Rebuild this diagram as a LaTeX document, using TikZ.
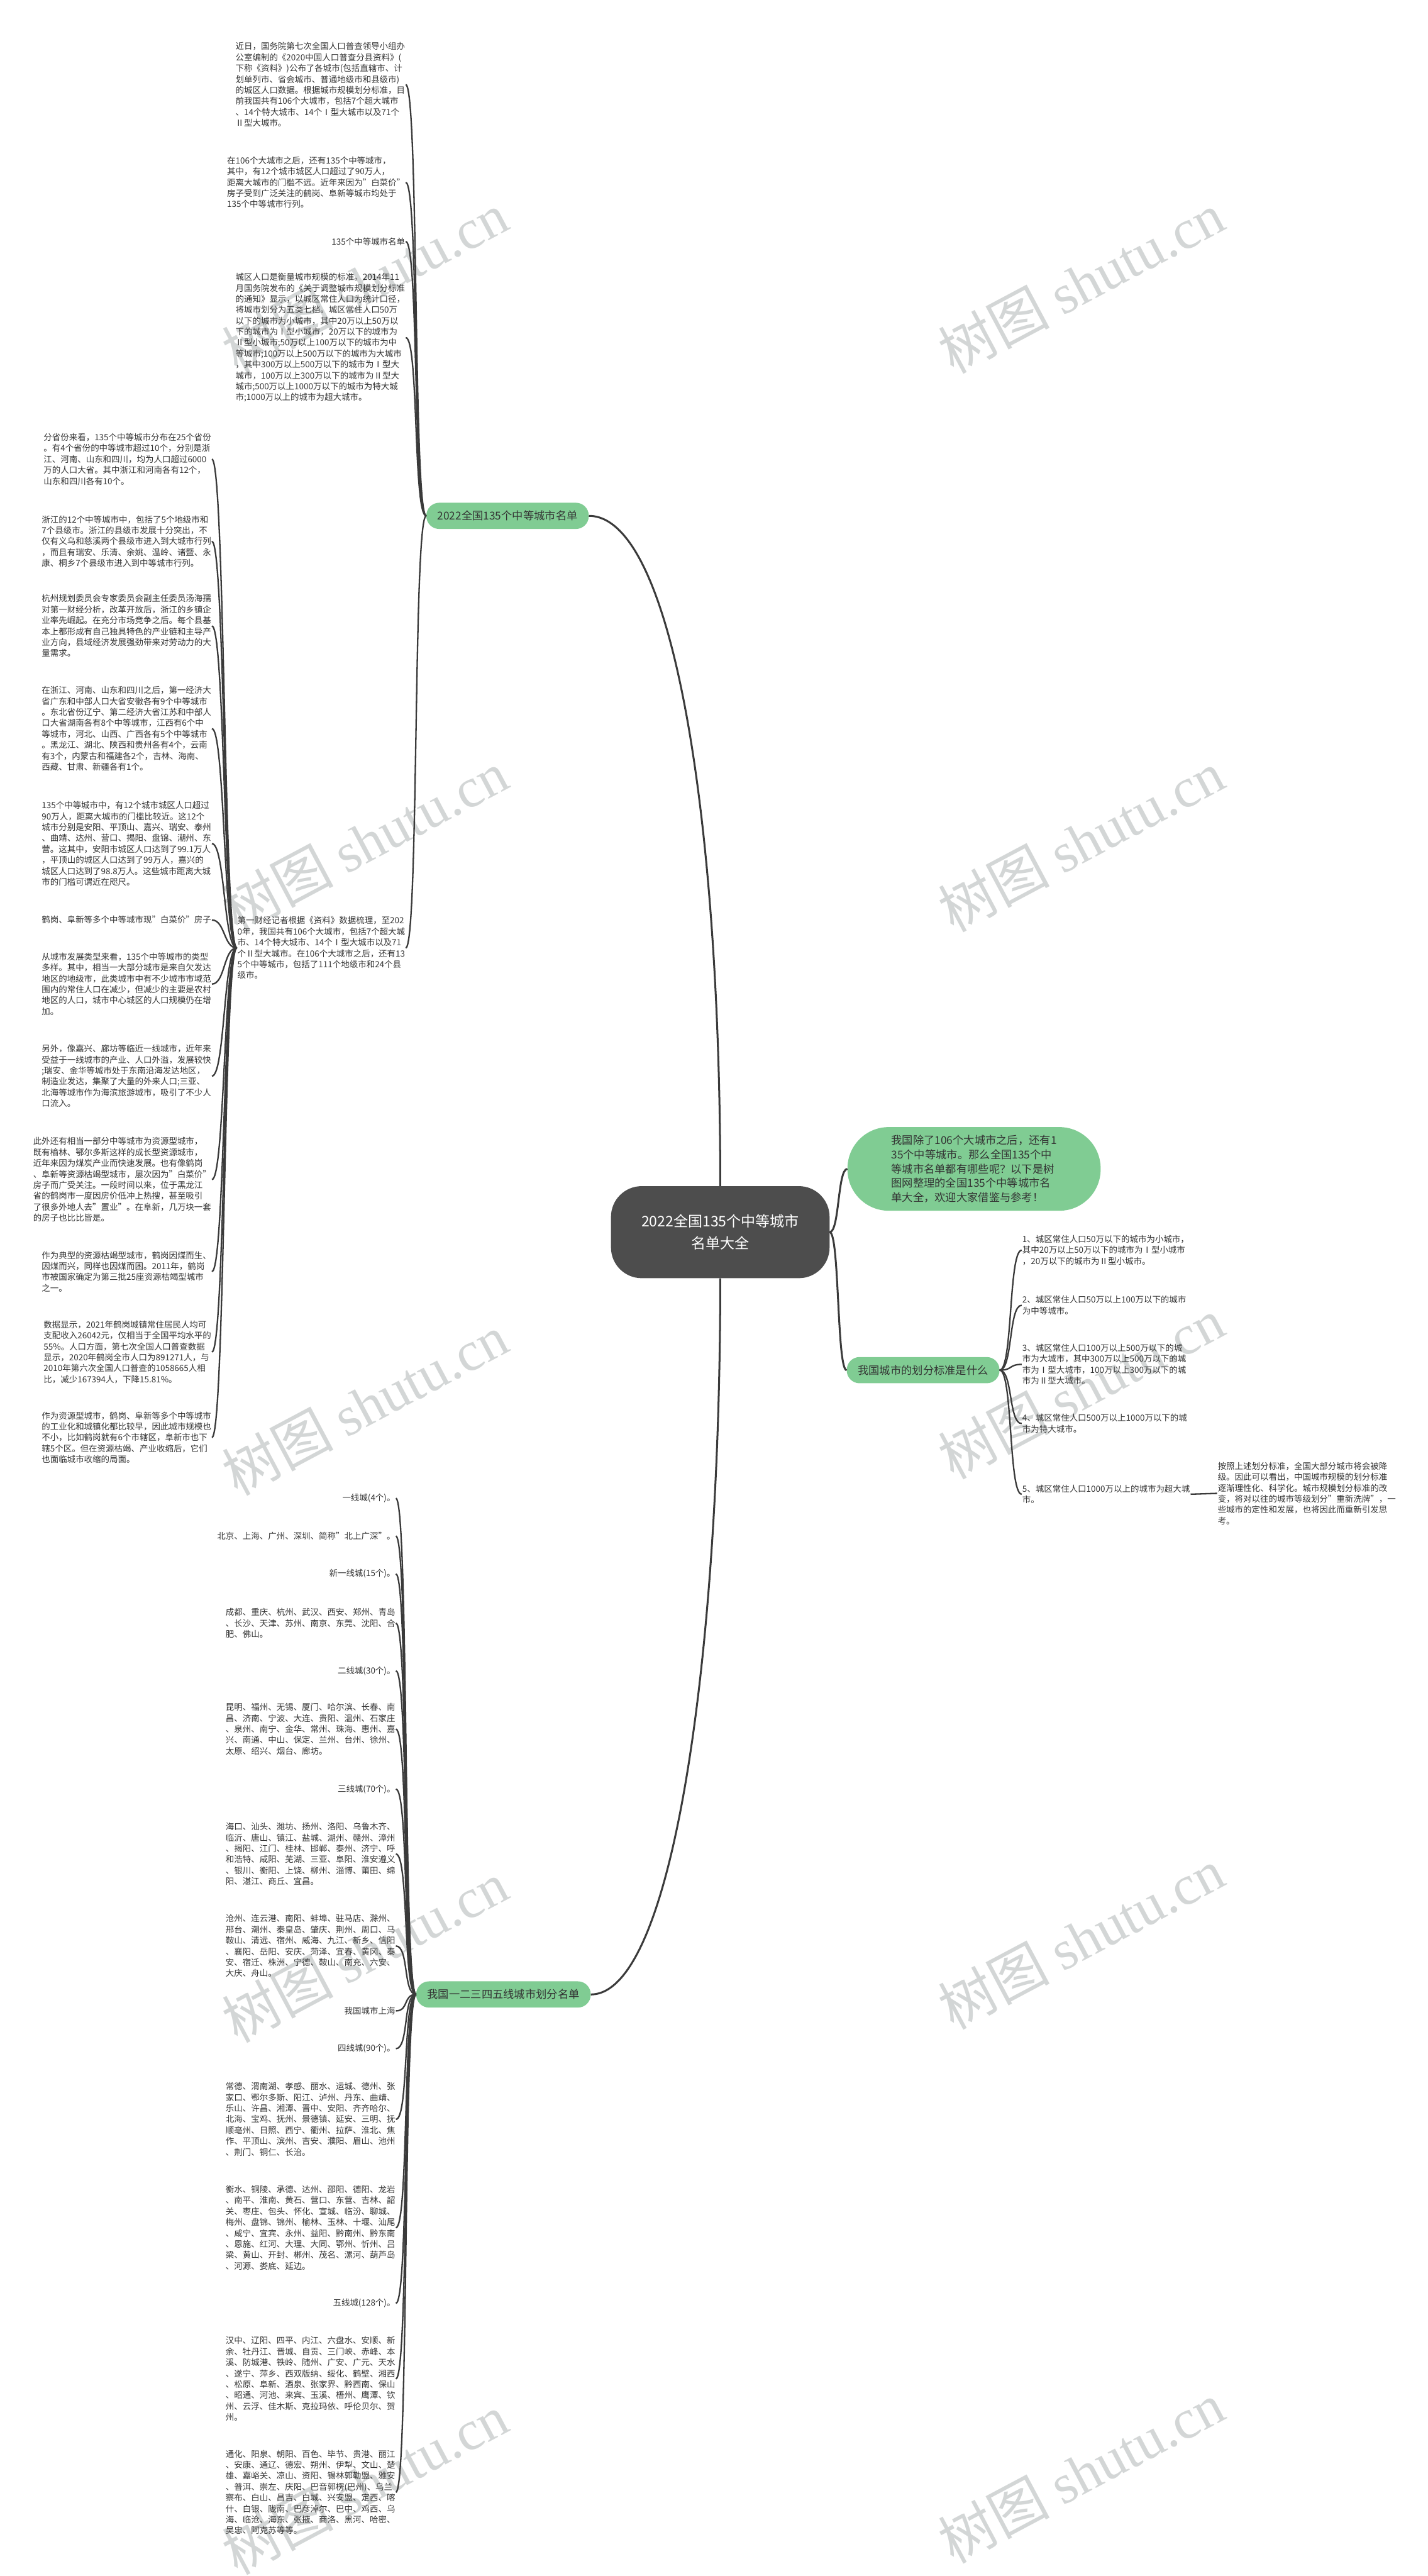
\documentclass[tikz,border=0pt]{standalone}
\usepackage{fontspec}
\setmainfont{Noto Sans CJK SC}
\newfontfamily\wmserif{Liberation Serif}
\usepackage{tikz}
\definecolor{ink}{HTML}{333333}
\definecolor{rootgray}{HTML}{4D4D4D}
\definecolor{leafgreen}{HTML}{80CC93}
\definecolor{linegray}{HTML}{3A3A3A}
\definecolor{wmgray}{HTML}{D3D6D6}
\tikzset{
  rootbox/.style={rectangle, fill=rootgray, text=white, rounded corners=55pt,
    minimum width=392pt, minimum height=165pt, align=center,
    font=\fontsize{26}{40}\selectfont},
  branchbox/.style={rectangle, fill=leafgreen, text=ink, rounded corners=23pt,
    minimum height=47pt, inner xsep=20pt, font=\fontsize{19.5}{25.7}\selectfont},
  notebox/.style={rectangle, fill=leafgreen, text=ink, rounded corners=74pt,
    minimum width=454pt, minimum height=150pt, align=left,
    font=\fontsize{19.5}{25.7}\selectfont},
  lefttext/.style={anchor=east, align=left, inner sep=1pt, text=ink,
    font=\fontsize{15.2}{19.6}\selectfont},
  righttext/.style={lefttext, anchor=west},
  link/.style={draw=linegray, line width=2.6pt},
  trunk/.style={draw=linegray, line width=3.4pt},
  watermark/.style={text=wmgray, rotate=28, font=\fontsize{100}{100}\selectfont},
}

\begin{document}
\begin{tikzpicture}[x=2.946pt, y=-2.946pt]
  \fill[white] (0,0) rectangle (869,1568);
  \useasboundingbox (0,0) rectangle (869,1568);
  \node[watermark] (wm1) at (222,172) {树图 {\wmserif shutu.cn}};
  \node[watermark] (wm2) at (658,172) {树图 {\wmserif shutu.cn}};
  \node[watermark] (wm3) at (222,512) {树图 {\wmserif shutu.cn}};
  \node[watermark] (wm4) at (658,512) {树图 {\wmserif shutu.cn}};
  \node[watermark] (wm5) at (222,855) {树图 {\wmserif shutu.cn}};
  \node[watermark] (wm6) at (658,845) {树图 {\wmserif shutu.cn}};
  \node[watermark] (wm7) at (222,1188) {树图 {\wmserif shutu.cn}};
  \node[watermark] (wm8) at (658,1180) {树图 {\wmserif shutu.cn}};
  \node[watermark] (wm9) at (222,1512) {树图 {\wmserif shutu.cn}};
  \node[watermark] (wm10) at (658,1505) {树图 {\wmserif shutu.cn}};

  \node[rootbox] (root) at (438.5,750) {2022全国135个中等城市\\名单大全};
  \node[branchbox] (list) at (309,314) {2022全国135个中等城市名单};
  \node[notebox] (intro) at (593,711.5) {我国除了106个大城市之后，还有1\\35个中等城市。那么全国135个中\\等城市名单都有哪些呢？以下是树\\图网整理的全国135个中等城市名\\单大全，欢迎大家借鉴与参考！};
  \node[branchbox] (std) at (562,834) {我国城市的划分标准是什么};
  \node[branchbox] (tiers) at (306.5,1214) {我国一二三四五线城市划分名单};

  \node[lefttext] (news) at (247,51.5) {近日，国务院第七次全国人口普查领导小组办\\公室编制的《2020中国人口普查分县资料》(\\下称《资料》)公布了各城市(包括直辖市、计\\划单列市、省会城市、普通地级市和县级市)\\的城区人口数据。根据城市规模划分标准，目\\前我国共有106个大城市，包括7个超大城市\\、14个特大城市、14个Ⅰ型大城市以及71个\\Ⅱ型大城市。};
  \node[lefttext] (after) at (247,111) {在106个大城市之后，还有135个中等城市，\\其中，有12个城市城区人口超过了90万人，\\距离大城市的门槛不远。近年来因为"白菜价"\\房子受到广泛关注的鹤岗、阜新等城市均处于\\135个中等城市行列。};
  \node[lefttext] (title) at (247,147) {135个中等城市名单};
  \node[lefttext] (scale) at (247,205.5) {城区人口是衡量城市规模的标准。2014年11\\月国务院发布的《关于调整城市规模划分标准\\的通知》显示，以城区常住人口为统计口径，\\将城市划分为五类七档。城区常住人口50万\\以下的城市为小城市，其中20万以上50万以\\下的城市为Ⅰ型小城市，20万以下的城市为\\Ⅱ型小城市;50万以上100万以下的城市为中\\等城市;100万以上500万以下的城市为大城市\\，其中300万以上500万以下的城市为Ⅰ型大\\城市，100万以上300万以下的城市为Ⅱ型大\\城市;500万以上1000万以下的城市为特大城\\市;1000万以上的城市为超大城市。};
  \node[lefttext] (survey) at (247,577) {第一财经记者根据《资料》数据梳理，至202\\0年，我国共有106个大城市，包括7个超大城\\市、14个特大城市、14个Ⅰ型大城市以及71\\个Ⅱ型大城市。在106个大城市之后，还有13\\5个中等城市，包括了111个地级市和24个县\\级市。};

  \node[lefttext] (prov) at (129,279.5) {分省份来看，135个中等城市分布在25个省份\\。有4个省份的中等城市超过10个，分别是浙\\江、河南、山东和四川，均为人口超过6000\\万的人口大省。其中浙江和河南各有12个，\\山东和四川各有10个。};
  \node[lefttext] (zj) at (129,329.5) {浙江的12个中等城市中，包括了5个地级市和\\7个县级市。浙江的县级市发展十分突出，不\\仅有义乌和慈溪两个县级市进入到大城市行列\\，而且有瑞安、乐清、余姚、温岭、诸暨、永\\康、桐乡7个县级市进入到中等城市行列。};
  \node[lefttext] (hz) at (129,381) {杭州规划委员会专家委员会副主任委员汤海孺\\对第一财经分析，改革开放后，浙江的乡镇企\\业率先崛起。在充分市场竞争之后。每个县基\\本上都形成有自己独具特色的产业链和主导产\\业方向，县域经济发展强劲带来对劳动力的大\\量需求。};
  \node[lefttext] (rank) at (129,443.5) {在浙江、河南、山东和四川之后，第一经济大\\省广东和中部人口大省安徽各有9个中等城市\\。东北省份辽宁、第二经济大省江苏和中部人\\口大省湖南各有8个中等城市，江西有6个中\\等城市，河北、山西、广西各有5个中等城市\\。黑龙江、湖北、陕西和贵州各有4个，云南\\有3个，内蒙古和福建各2个，吉林、海南、\\西藏、甘肃、新疆各有1个。};
  \node[lefttext] (near) at (129,513.5) {135个中等城市中，有12个城市城区人口超过\\90万人，距离大城市的门槛比较近。这12个\\城市分别是安阳、平顶山、嘉兴、瑞安、泰州\\、曲靖、达州、营口、揭阳、盘锦、潮州、东\\营。这其中，安阳市城区人口达到了99.1万人\\，平顶山的城区人口达到了99万人，嘉兴的\\城区人口达到了98.8万人。这些城市距离大城\\市的门槛可谓近在咫尺。};
  \node[lefttext] (cheap) at (129,560) {鹤岗、阜新等多个中等城市现"白菜价"房子};
  \node[lefttext] (kind) at (129,599) {从城市发展类型来看，135个中等城市的类型\\多样。其中，相当一大部分城市是来自欠发达\\地区的地级市，此类城市中有不少城市市域范\\围内的常住人口在减少，但减少的主要是农村\\地区的人口，城市中心城区的人口规模仍在增\\加。};
  \node[lefttext] (coast) at (129,655) {另外，像嘉兴、廊坊等临近一线城市，近年来\\受益于一线城市的产业、人口外溢，发展较快\\;瑞安、金华等城市处于东南沿海发达地区，\\制造业发达，集聚了大量的外来人口;三亚、\\北海等城市作为海滨旅游城市，吸引了不少人\\口流入。};
  \node[lefttext] (res) at (129,718) {此外还有相当一部分中等城市为资源型城市，\\既有榆林、鄂尔多斯这样的成长型资源城市，\\近年来因为煤炭产业而快速发展。也有像鹤岗\\、阜新等资源枯竭型城市，屡次因为"白菜价"\\房子而广受关注。一段时间以来，位于黑龙江\\省的鹤岗市一度因房价低冲上热搜，甚至吸引\\了很多外地人去"置业"。在阜新，几万块一套\\的房子也比比皆是。};
  \node[lefttext] (coal) at (129,774) {作为典型的资源枯竭型城市，鹤岗因煤而生、\\因煤而兴，同样也因煤而困。2011年，鹤岗\\市被国家确定为第三批25座资源枯竭型城市\\之一。};
  \node[lefttext] (data) at (129,823) {数据显示，2021年鹤岗城镇常住居民人均可\\支配收入26042元，仅相当于全国平均水平的\\55\%。人口方面，第七次全国人口普查数据\\显示，2020年鹤岗全市人口为891271人，与\\2010年第六次全国人口普查的1058665人相\\比，减少167394人，下降15.81\%。};
  \node[lefttext] (shrink) at (129,875) {作为资源型城市，鹤岗、阜新等多个中等城市\\的工业化和城镇化都比较早，因此城市规模也\\不小，比如鹤岗就有6个市辖区，阜新市也下\\辖5个区。但在资源枯竭、产业收缩后，它们\\也面临城市收缩的局面。};

  \node[righttext] (small) at (622,761) {1、城区常住人口50万以下的城市为小城市，\\其中20万以上50万以下的城市为Ⅰ型小城市\\，20万以下的城市为Ⅱ型小城市。};
  \node[righttext] (mid) at (622,794.5) {2、城区常住人口50万以上100万以下的城市\\为中等城市。};
  \node[righttext] (big) at (622,830.5) {3、城区常住人口100万以上500万以下的城\\市为大城市，其中300万以上500万以下的城\\市为Ⅰ型大城市，100万以上300万以下的城\\市为Ⅱ型大城市。};
  \node[righttext] (huge) at (622,866.5) {4、城区常住人口500万以上1000万以下的城\\市为特大城市。};
  \node[righttext] (mega) at (622,909.5) {5、城区常住人口1000万以上的城市为超大城\\市。};
  \node[righttext] (reshuffle) at (741,909) {按照上述划分标准，全国大部分城市将会被降\\级。因此可以看出，中国城市规模的划分标准\\逐渐理性化、科学化。城市规模划分标准的改\\变，将对以往的城市等级划分"重新洗牌"，一\\些城市的定性和发展，也将因此而重新引发思\\考。};

  \node[lefttext] (first) at (241,912) {一线城(4个)。};
  \node[lefttext] (firstlist) at (241,935) {北京、上海、广州、深圳、简称"北上广深"。};
  \node[lefttext] (newfirst) at (241,958) {新一线城(15个)。};
  \node[lefttext] (newfirstlist) at (241,988) {成都、重庆、杭州、武汉、西安、郑州、青岛\\、长沙、天津、苏州、南京、东莞、沈阳、合\\肥、佛山。};
  \node[lefttext] (second) at (241,1017) {二线城(30个)。};
  \node[lefttext] (secondlist) at (241,1052.5) {昆明、福州、无锡、厦门、哈尔滨、长春、南\\昌、济南、宁波、大连、贵阳、温州、石家庄\\、泉州、南宁、金华、常州、珠海、惠州、嘉\\兴、南通、中山、保定、兰州、台州、徐州、\\太原、绍兴、烟台、廊坊。};
  \node[lefttext] (third) at (241,1089) {三线城(70个)。};
  \node[lefttext] (thirdlist) at (241,1128.5) {海口、汕头、潍坊、扬州、洛阳、乌鲁木齐、\\临沂、唐山、镇江、盐城、湖州、赣州、漳州\\、揭阳、江门、桂林、邯郸、泰州、济宁、呼\\和浩特、咸阳、芜湖、三亚、阜阳、淮安遵义\\、银川、衡阳、上饶、柳州、淄博、莆田、绵\\阳、湛江、商丘、宜昌。};
  \node[lefttext] (thirdmore) at (241,1184.5) {沧州、连云港、南阳、蚌埠、驻马店、滁州、\\邢台、潮州、秦皇岛、肇庆、荆州、周口、马\\鞍山、清远、宿州、威海、九江、新乡、信阳\\、襄阳、岳阳、安庆、菏泽、宜春、黄冈、泰\\安、宿迁、株洲、宁德、鞍山、南充、六安、\\大庆、舟山。};
  \node[lefttext] (shanghai) at (241,1224) {我国城市上海};
  \node[lefttext] (fourth) at (241,1247) {四线城(90个)。};
  \node[lefttext] (fourthlist) at (241,1290) {常德、渭南湖、孝感、丽水、运城、德州、张\\家口、鄂尔多斯、阳江、泸州、丹东、曲靖、\\乐山、许昌、湘潭、晋中、安阳、齐齐哈尔、\\北海、宝鸡、抚州、景德镇、延安、三明、抚\\顺亳州、日照、西宁、衢州、拉萨、淮北、焦\\作、平顶山、滨州、吉安、濮阳、眉山、池州\\、荆门、铜仁、长治。};
  \node[lefttext] (fourthmore) at (241,1356) {衡水、铜陵、承德、达州、邵阳、德阳、龙岩\\、南平、淮南、黄石、营口、东营、吉林、韶\\关、枣庄、包头、怀化、宣城、临汾、聊城、\\梅州、盘锦、锦州、榆林、玉林、十堰、汕尾\\、咸宁、宜宾、永州、益阳、黔南州、黔东南\\、恩施、红河、大理、大同、鄂州、忻州、吕\\梁、黄山、开封、郴州、茂名、漯河、葫芦岛\\、河源、娄底、延边。};
  \node[lefttext] (fifth) at (241,1402) {五线城(128个)。};
  \node[lefttext] (fifthlist) at (241,1448) {汉中、辽阳、四平、内江、六盘水、安顺、新\\余、牡丹江、晋城、自贡、三门峡、赤峰、本\\溪、防城港、铁岭、随州、广安、广元、天水\\、遂宁、萍乡、西双版纳、绥化、鹤壁、湘西\\、松原、阜新、酒泉、张家界、黔西南、保山\\、昭通、河池、来宾、玉溪、梧州、鹰潭、钦\\州、云浮、佳木斯、克拉玛依、呼伦贝尔、贺\\州。};
  \node[lefttext] (fifthmore) at (241,1517) {通化、阳泉、朝阳、百色、毕节、贵港、丽江\\、安康、通辽、德宏、朔州、伊犁、文山、楚\\雄、嘉峪关、凉山、资阳、锡林郭勒盟、雅安\\、普洱、崇左、庆阳、巴音郭楞(巴州)、乌兰\\察布、白山、昌吉、白城、兴安盟、定西、喀\\什、白银、陇南、巴彦淖尔、巴中、鸡西、乌\\海、临沧、海东、张掖、商洛、黑河、哈密、\\吴忠、阿克苏等等。};

  \draw[trunk] (root.north) .. controls +(0,-230) and +(50,0) .. (list.east);
  \draw[trunk] (root.east) .. controls +(6,0) and +(-6,0) .. (intro.west);
  \draw[trunk] (root.east) .. controls +(6,0) and +(-6,0) .. (std.west);
  \draw[trunk] (root.south) .. controls +(0,230) and +(50,0) .. (tiers.east);

  \draw[link] (list.west) .. controls +(-8,0) and +(8,0) .. (news.east);
  \draw[link] (list.west) .. controls +(-8,0) and +(8,0) .. (after.east);
  \draw[link] (list.west) .. controls +(-8,0) and +(8,0) .. (title.east);
  \draw[link] (list.west) .. controls +(-8,0) and +(8,0) .. (scale.east);
  \draw[link] (list.west) .. controls +(-8,0) and +(8,0) .. (survey.east);

  \draw[link] (survey.west) .. controls +(-8,0) and +(8,0) .. (prov.east);
  \draw[link] (survey.west) .. controls +(-8,0) and +(8,0) .. (zj.east);
  \draw[link] (survey.west) .. controls +(-8,0) and +(8,0) .. (hz.east);
  \draw[link] (survey.west) .. controls +(-8,0) and +(8,0) .. (rank.east);
  \draw[link] (survey.west) .. controls +(-8,0) and +(8,0) .. (near.east);
  \draw[link] (survey.west) .. controls +(-8,0) and +(8,0) .. (cheap.east);
  \draw[link] (survey.west) .. controls +(-8,0) and +(8,0) .. (kind.east);
  \draw[link] (survey.west) .. controls +(-8,0) and +(8,0) .. (coast.east);
  \draw[link] (survey.west) .. controls +(-8,0) and +(8,0) .. (res.east);
  \draw[link] (survey.west) .. controls +(-8,0) and +(8,0) .. (coal.east);
  \draw[link] (survey.west) .. controls +(-8,0) and +(8,0) .. (data.east);
  \draw[link] (survey.west) .. controls +(-8,0) and +(8,0) .. (shrink.east);

  \draw[link] (std.east) .. controls +(8,0) and +(-8,0) .. (small.west);
  \draw[link] (std.east) .. controls +(8,0) and +(-8,0) .. (mid.west);
  \draw[link] (std.east) .. controls +(8,0) and +(-8,0) .. (big.west);
  \draw[link] (std.east) .. controls +(8,0) and +(-8,0) .. (huge.west);
  \draw[link] (std.east) .. controls +(8,0) and +(-8,0) .. (mega.west);
  \draw[link] (mega.east) -- (reshuffle.west);

  \draw[link] (tiers.west) .. controls +(-8,0) and +(8,0) .. (first.east);
  \draw[link] (tiers.west) .. controls +(-8,0) and +(8,0) .. (firstlist.east);
  \draw[link] (tiers.west) .. controls +(-8,0) and +(8,0) .. (newfirst.east);
  \draw[link] (tiers.west) .. controls +(-8,0) and +(8,0) .. (newfirstlist.east);
  \draw[link] (tiers.west) .. controls +(-8,0) and +(8,0) .. (second.east);
  \draw[link] (tiers.west) .. controls +(-8,0) and +(8,0) .. (secondlist.east);
  \draw[link] (tiers.west) .. controls +(-8,0) and +(8,0) .. (third.east);
  \draw[link] (tiers.west) .. controls +(-8,0) and +(8,0) .. (thirdlist.east);
  \draw[link] (tiers.west) .. controls +(-8,0) and +(8,0) .. (thirdmore.east);
  \draw[link] (tiers.west) .. controls +(-8,0) and +(8,0) .. (shanghai.east);
  \draw[link] (tiers.west) .. controls +(-8,0) and +(8,0) .. (fourth.east);
  \draw[link] (tiers.west) .. controls +(-8,0) and +(8,0) .. (fourthlist.east);
  \draw[link] (tiers.west) .. controls +(-8,0) and +(8,0) .. (fourthmore.east);
  \draw[link] (tiers.west) .. controls +(-8,0) and +(8,0) .. (fifth.east);
  \draw[link] (tiers.west) .. controls +(-8,0) and +(8,0) .. (fifthlist.east);
  \draw[link] (tiers.west) .. controls +(-8,0) and +(8,0) .. (fifthmore.east);
\end{tikzpicture}
\end{document}
